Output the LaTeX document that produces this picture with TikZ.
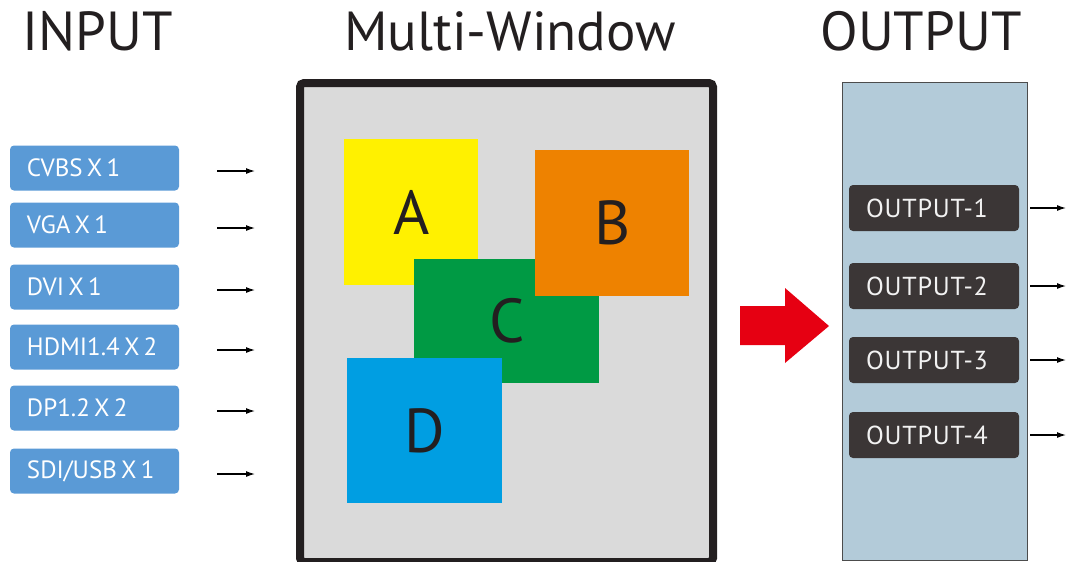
\documentclass[tikz,border=0pt]{standalone}
\usepackage{fontspec}
\setmainfont{PT Sans}
\usetikzlibrary{arrows.meta}

\begin{document}
\begin{tikzpicture}[x=1pt,y=-1pt,
  title/.style={font=\fontsize{55}{58}\selectfont,text=titlegray},
  inbox/.style={fill=inblue,rounded corners=4pt,text=white,minimum height=45pt,
    text width=135pt,inner xsep=17pt,align=left,font=\fontsize{25}{27}\selectfont},
  outbox/.style={fill=outgray,rounded corners=4pt,text=white!90!gray,minimum height=46pt,
    text width=136pt,inner xsep=17pt,align=left,
    font=\fontsize{26}{28}\selectfont\addfontfeature{LetterSpace=3}},
  win/.style={anchor=north west,inner sep=0pt,font=\fontsize{62}{64}\selectfont,text=titlegray},
  tip/.style={-{Latex[length=9pt,width=6pt]},line width=1.2pt}]
\definecolor{titlegray}{HTML}{231F20}
\definecolor{inblue}{HTML}{5A9AD6}
\definecolor{outgray}{HTML}{3B3636}
\definecolor{panelblue}{HTML}{B3CBD9}
\definecolor{framegray}{HTML}{DADADA}
\definecolor{winA}{HTML}{FFF100}
\definecolor{winB}{HTML}{EE8200}
\definecolor{winC}{HTML}{009A44}
\definecolor{winD}{HTML}{009EE2}
\definecolor{bigred}{HTML}{E60012}
\useasboundingbox (0,0) rectangle (1066,562);

% titles
\node[title] (tin) at (98,31) {INPUT};
\node[title] (tmw) at (510,31) {Multi-Window};
\node[title] (tout) at (921,31) {OUTPUT};

% multi-window frame and windows
\node[draw=titlegray,line width=8pt,rounded corners=4pt,fill=framegray,anchor=north west,
  minimum width=413pt,minimum height=479pt] (mw) at (296,79) {};
\node[win,fill=winA,minimum width=134pt,minimum height=146pt] (A) at (344,139) {A};
\node[win,fill=winC,minimum width=185pt,minimum height=124pt] (C) at (414,259) {C};
\node[win,fill=winB,minimum width=154pt,minimum height=146pt] (B) at (535,150) {B};
\node[win,fill=winD,minimum width=155pt,minimum height=145pt] (D) at (347,358) {D};

% inputs
\foreach \nm/\txt/\y in {1/CVBS X 1/168,2/VGA X 1/225,3/DVI X 1/287,
  4/HDMI1.4 X 2/347,5/DP1.2 X 2/408,6/{SDI/USB X 1}/471}
{ \node[inbox] (in\nm) at (94.5,\y) {\spaceskip=0.17em\relax\mbox{\txt}};
  \draw[tip,shorten <=38pt,shorten >=41pt] ([yshift=-3pt]in\nm.east) -- ([yshift=-3pt]mw.west |- in\nm);}

% big red arrow
\fill[bigred] (740,306) -- (785,306) -- (785,288) -- (829,326) -- (785,363)
  -- (785,345) -- (740,345) -- cycle;

% outputs
\node[draw=gray!60!black,fill=panelblue,anchor=north west,minimum width=185pt,
  minimum height=478pt] (panel) at (842,82) {};
\coordinate (edge) at (1066,0);
\foreach \nm/\y in {1/208,2/286,3/360,4/435}
{ \node[outbox] (out\nm) at (934,\y) {OUTPUT-\nm};
  \draw[tip,shorten <=11pt] (out\nm.east) -- (out\nm.east -| edge);}
\end{tikzpicture}
\end{document}
